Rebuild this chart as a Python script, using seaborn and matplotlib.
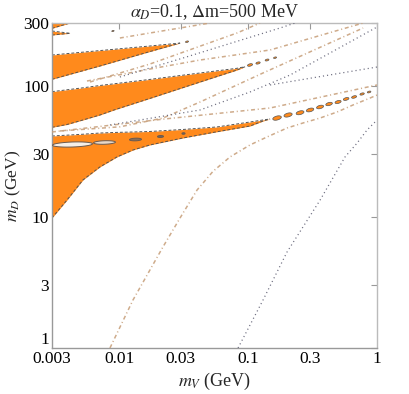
import matplotlib
matplotlib.use("Agg")
import matplotlib.pyplot as plt
import numpy as np
import seaborn as sns
from matplotlib.path import Path
from matplotlib.markers import MarkerStyle
from matplotlib.transforms import Affine2D

sns.set_theme(style="white")
plt.rcParams['font.family'] = ['Liberation Serif', 'DejaVu Serif']
plt.rcParams['mathtext.fontset'] = 'stix'

# ---- resonance bands (filled regions), m_V in GeV, m_D in GeV ----
bandA_x = [0.003, 0.00392, 0.00522, 0.00707, 0.00959, 0.01276, 0.01729, 0.0312, 0.0573, 0.1033, 0.1303, 0.1477]
bandA_lo = [9.8, 13.4, 19.1, 24.0, 28.6, 32.3, 35.3, 39.9, 44.5, 49.2, 53.7, 55.7]
bandA_hi = [41.3, 41.9, 42.6, 43.5, 44.0, 44.3, 44.7, 46.3, 48.4, 52.8, 54.7, 55.7]

bandB_x = [0.003, 0.00392, 0.00522, 0.00707, 0.00909, 0.01729, 0.0423, 0.0819, 0.0945]
bandB_lo = [48.1, 50.5, 54.7, 59.7, 65.2, 79.9, 106.5, 131.5, 139.4]
bandB_hi = [89.9, 92.9, 96.2, 100.2, 103.2, 111.5, 124.8, 135.5, 139.4]

bandC_x = [0.003, 0.00707, 0.01729, 0.0296]
bandC_lo = [111.7, 141.1, 181.9, 211.0]
bandC_hi = [171.1, 184.9, 200.4, 211.0]

bandD_x = [0.003, 0.00414]
bandD_lo = [273.4, 300.0]

sliver_x = [0.003, 0.00414]
sliver_lo = [243.0, 250.4]
sliver_hi = [260.8, 250.4]

# islands that continue the bands to the right
chainA_x = [0.1674, 0.2038, 0.2525, 0.302, 0.361, 0.424, 0.498, 0.575, 0.663, 0.765, 0.867]
chainA_y = [56.6, 59.7, 62.1, 65.2, 68.7, 72.4, 75.0, 79.1, 81.9, 86.3, 89.4]
chainB_x = [0.1033, 0.1192, 0.140, 0.1615, 0.0335, 0.00892]
chainB_y = [143.6, 148.7, 156.7, 163.2, 216.0, 260.8]

# holes inside band A
holes_x = [0.00429, 0.0076, 0.01322, 0.0207, 0.0312]
holes_y = [35.9, 37.4, 39.4, 41.3, 43.2]

# ---- other constraint curves ----
brown_lines = {
    "b1": ([0.003, 0.02261, 0.1477, 1.0], [44.3, 55.7, 67.5, 101.1]),
    "b2": ([0.00346, 0.0101, 0.0218, 0.0423, 0.1303, 0.779], [45.1, 48.5, 56.6, 75.0, 124.8, 274.8]),
    "b3": ([0.00561, 0.01729, 0.0423, 0.1477, 0.779], [108.4, 133.8, 156.7, 186.8, 300.0]),
    "b4": ([0.00592, 0.01729, 0.0819, 0.1235], [106.5, 146.1, 251.8, 300.0]),
    "b5": ([0.0101, 0.0505], [230.6, 300.0]),
    "b7": ([0.00846, 0.01276, 0.0218, 0.0296, 0.0401, 0.0533, 0.0723, 0.1033, 0.140,
            0.2001, 0.2665, 0.361, 0.489, 0.651, 0.882, 1.0],
           [1.0, 2.32, 5.89, 9.8, 16.0, 22.2, 28.6, 35.3, 40.6, 47.5, 51.9, 56.6, 62.9,
            71.2, 80.4, 84.8]),
}
gray_lines = {
    "g1": ([0.00846, 0.0423, 0.1033, 0.2112, 1.0], [50.1, 65.2, 89.4, 120.4, 279.7]),
    "g2": ([0.0101, 0.0312, 0.1766, 0.2309], [116.3, 162.3, 274.8, 300.0]),
    "g4": ([0.1477, 1.0], [101.1, 138.6]),
    "g5": ([0.0834, 0.1303, 0.2001, 0.361, 0.564, 0.700, 0.836, 1.0],
           [1.0, 2.32, 5.39, 13.4, 28.6, 36.5, 45.9, 54.7]),
}

xticks = [0.003, 0.01, 0.03, 0.1, 0.3, 1]
xticklabels = ["0.003", "0.01", "0.03", "0.1", "0.3", "1"]
yticks = [1, 3, 10, 30, 100, 300]
yticklabels = ["1", "3", "10", "30", "100", "300"]

orange = "#ff8a1c"
edge = "#555555"
tan = "#c9a27e"
slate = "#6e6e80"

fig = plt.figure(figsize=(4.09, 3.94), dpi=100)
ax = fig.add_axes([0.127, 0.1168, 0.795, 0.8248])
ax.set_xscale("log")
ax.set_yscale("log")


def ellipse_marker(aspect, angle=0.0):
    t = np.linspace(0, 2 * np.pi, 41)
    verts = np.column_stack([np.cos(t), aspect * np.sin(t)])
    return MarkerStyle(Path(verts, closed=True), transform=Affine2D().rotate_deg(angle))


dash = (0, (3, 2))
for bx, lo, hi in [(bandA_x, bandA_lo, bandA_hi), (bandB_x, bandB_lo, bandB_hi),
                   (bandC_x, bandC_lo, bandC_hi), (sliver_x, sliver_lo, sliver_hi)]:
    ax.fill_between(bx, lo, hi, color=orange, lw=0, zorder=1)
    ax.plot(bx, lo, color=edge, lw=0.7, ls=dash, zorder=2)
    ax.plot(bx, hi, color=edge, lw=0.7, ls=dash, zorder=2)
ax.fill_between(bandD_x, bandD_lo, 300, color=orange, lw=0, zorder=1)
ax.plot(bandD_x, bandD_lo, color=edge, lw=0.7, ls=dash, zorder=2)

# holes
hole_sizes = [830, 250, 75, 19, 5]
hole_aspect = [0.125, 0.16, 0.22, 0.33, 0.5]
hole_face = ["#f6efe8", "#e8d8c8", "#8a6e58", "#7a6250", "#7a6250"]
for hx, hy, s, a, fc in zip(holes_x, holes_y, hole_sizes, hole_aspect, hole_face):
    ax.scatter([hx], [hy], s=s, marker=ellipse_marker(a, 2), facecolor=fc,
               edgecolor="#6a5a50", linewidth=0.7, zorder=3)

# island chains
sizesA = np.linspace(40, 7, len(chainA_x))
ax.scatter(chainA_x, chainA_y, s=sizesA, marker=ellipse_marker(0.45, 15),
           facecolor=orange, edgecolor=edge, linewidth=0.5, zorder=3)
ax.scatter(chainB_x, chainB_y, s=[14, 10, 8, 5, 5, 3], marker=ellipse_marker(0.45, 15),
           facecolor=orange, edgecolor=edge, linewidth=0.5, zorder=3)

for name, (lx, ly) in brown_lines.items():
    sns.lineplot(x=lx, y=ly, ax=ax, sort=False, estimator=None, color=tan, lw=1.1,
                 linestyle=(0, (2.6, 1.8, 0.7, 1.8)), alpha=0.9, zorder=4)
for name, (lx, ly) in gray_lines.items():
    sns.lineplot(x=lx, y=ly, ax=ax, sort=False, estimator=None, color=slate, lw=0.9,
                 linestyle=(0, (0.9, 2.4)), zorder=4)

ax.set_xlim(0.003, 1)
ax.set_ylim(1, 300)
ax.set_xticks(xticks)
ax.set_xticklabels(xticklabels)
ax.set_yticks(yticks)
ax.set_yticklabels(yticklabels)
ax.minorticks_off()
ax.tick_params(axis="both", direction="in", length=4, width=0.8, color="#999999",
               labelsize=12.5, pad=2, top=True, right=True, labelcolor="black")
ax.get_yticklabels()[0].set_verticalalignment("bottom")
for side in ["left", "bottom"]:
    ax.spines[side].set_color("#999999")
for side in ["top", "right"]:
    ax.spines[side].set_color("#bbbbbb")
for sp in ax.spines.values():
    sp.set_linewidth(1.0)

ax.set_xlabel("$m_V$ (GeV)", fontsize=13, labelpad=3)
ax.set_ylabel("$m_D$ (GeV)", fontsize=12.5)
ax.yaxis.set_label_coords(-0.09, 0.5)
ax.set_title(r"$\alpha_D$=0.1, $\Delta$m=500 MeV", fontsize=13, pad=4)

fig.savefig("out.png", dpi=100)
